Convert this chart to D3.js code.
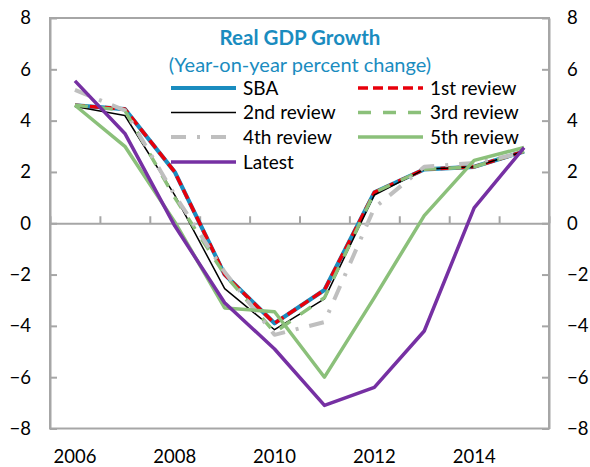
<!DOCTYPE html>
<html><head><meta charset="utf-8">
<script src="https://cdn.jsdelivr.net/npm/d3@7/dist/d3.min.js"></script>
<style>body{margin:0;background:#fff}svg{display:block}</style>
</head><body>
<svg id="c" width="590" height="467"></svg>
<script>
const years = [2006,2007,2008,2009,2010,2011,2012,2013,2014,2015];
const xLabels = [2006,2008,2010,2012,2014];
const yTicks = [-8,-6,-4,-2,0,2,4,6,8];
const seriesNames = ["SBA","1st review","2nd review","3rd review","4th review","5th review","Latest"];
const sba      = [4.6, 4.45, 2.0, -2.0, -3.9, -2.6, 1.2, 2.1, 2.2, 2.8];
const review1  = [4.6, 4.45, 2.0, -2.0, -3.9, -2.6, 1.2, 2.1, 2.2, 2.8];
const review2  = [4.55, 4.2, 1.1, -2.55, -4.15, -2.95, 1.1, 2.1, 2.2, 2.8];
const review3  = [4.6, 4.4, 1.0, -2.0, -4.25, -2.9, 1.2, 2.1, 2.2, 2.8];
const review4  = [5.2, 4.4, 1.1, -1.9, -4.35, -3.85, 0.6, 2.2, 2.35, 2.75];
const review5  = [4.6, 3.0, 0.05, -3.3, -3.45, -6.0, -2.9, 0.3, 2.45, 2.95];
const latest   = [5.55, 3.5, -0.1, -3.1, -4.9, -7.1, -6.4, -4.2, 0.6, 2.95];
const values = [sba, review1, review2, review3, review4, review5, latest];

const styles = [
  {c:"#1a8cbf", w:4.2, d:null},
  {c:"#e8000b", w:3.5, d:"10,5"},
  {c:"#000000", w:1.5, d:null},
  {c:"#8bc07a", w:3.5, d:"13,12"},
  {c:"#bfbfbf", w:4, d:"15,11,3,11"},
  {c:"#8bc07a", w:3.5, d:null},
  {c:"#7630a3", w:3.5, d:null}
];

const svg = d3.select("#c");
const font = "Lato, 'Open Sans', sans-serif";
const L=50, R=549, T=18, B=428.5;
const x = d3.scaleBand().domain(years).range([L,R]).padding(0);
const xb = d3.scaleLinear().domain([2005.5,2015.5]).range([L,R]);
const y = d3.scaleLinear().domain([-8,8]).range([B,T]);
const axisColor = "#a6a6a6";

svg.append("rect").attr("x",L).attr("y",T).attr("width",R-L).attr("height",B-T)
  .attr("fill","none").attr("stroke",axisColor).attr("stroke-width",2);

function styleAxis(g){
  g.select(".domain").attr("stroke",axisColor).attr("stroke-width",2);
  g.selectAll(".tick line").attr("stroke",axisColor).attr("stroke-width",2);
  g.selectAll("text").attr("fill","#000").style("font-family",font).style("font-size","18.5px");
}
svg.append("g").attr("transform",`translate(${L},0)`)
  .call(d3.axisLeft(y).tickValues(yTicks).tickSize(-7).tickPadding(19).tickSizeOuter(0))
  .call(styleAxis);
svg.append("g").attr("transform",`translate(${R},0)`)
  .call(d3.axisRight(y).tickValues(yTicks).tickSize(-7).tickPadding(18).tickSizeOuter(0))
  .call(styleAxis);
svg.append("g").attr("transform",`translate(0,${y(0)})`)
  .call(d3.axisTop(xb).tickValues(d3.range(2005.5,2016,1)).tickSize(7).tickFormat("").tickSizeOuter(0))
  .call(styleAxis);
svg.append("g").attr("transform",`translate(0,${B})`)
  .call(d3.axisBottom(x).tickValues(xLabels).tickSize(0).tickPadding(21))
  .call(g=>g.select(".domain").remove())
  .call(styleAxis);

const line = d3.line().x((d,i)=>x(years[i])+x.bandwidth()/2).y(d=>y(d));
values.forEach((v,k)=>{
  const s = styles[k];
  svg.append("path").datum(v).attr("d",line).attr("fill","none")
    .attr("stroke",s.c).attr("stroke-width",s.w)
    .attr("stroke-dasharray",s.d).attr("stroke-linejoin","round");
});

svg.append("text").attr("x",300).attr("y",45).attr("text-anchor","middle")
  .style("font-family",font).style("font-size","20.5px").style("font-weight","bold")
  .attr("fill","#1a8cbf").text("Real GDP Growth");
svg.append("text").attr("x",300).attr("y",71.5).attr("text-anchor","middle")
  .style("font-family",font).style("font-size","20px")
  .attr("fill","#1a8cbf").text("(Year-on-year percent change)");

const legX = [171, 358], legY = [88,112.5,137,162];
seriesNames.forEach((n,k)=>{
  const col = k%2, row = Math.floor(k/2);
  const lx = legX[col], ly = legY[row], s = styles[k];
  svg.append("line").attr("x1",lx).attr("x2",lx+65).attr("y1",ly).attr("y2",ly)
    .attr("stroke",s.c).attr("stroke-width",s.w).attr("stroke-dasharray",s.d);
  svg.append("text").attr("x",lx+72).attr("y",ly).attr("dy","0.35em")
    .style("font-family",font).style("font-size","19px").attr("fill","#000").text(n);
});
</script>
</body></html>
